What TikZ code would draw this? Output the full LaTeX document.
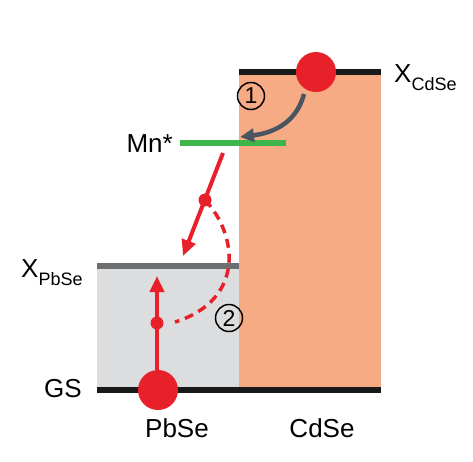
\documentclass[tikz,border=0pt]{standalone}
\usepackage{fontspec}
\setmainfont{Liberation Sans}
\usepackage{tkz-euclide}
\usetikzlibrary{arrows.meta}

\definecolor{rojo}{HTML}{E8202A}
\definecolor{naranja}{HTML}{F7AB84}
\definecolor{grisclaro}{HTML}{DCDDDF}
\definecolor{grisnivel}{HTML}{6D6E70}
\definecolor{verde}{HTML}{3DB54A}
\definecolor{pizarra}{HTML}{4A5562}

\begin{document}
\begin{tikzpicture}[x=1pt,y=-1pt,
    etiqueta/.style={font=\fontsize{26}{30}\selectfont, inner sep=0pt},
    nivel/.style={line width=6.5pt},
    flecha/.style={rojo, line width=4pt, -{Triangle[length=16pt,width=14pt]}},
    cifra/.style={circle, draw, line width=1.5pt, inner sep=0pt,
      minimum size=27pt, font=\fontsize{23}{24}\selectfont}]
        \useasboundingbox (0,0) rectangle (473,461);

        % Define las esquinas de las bandas de PbSe y CdSe.
        \tkzDefPoint(97,266){PbA}
        \tkzDefPoint(239,390){PbB}
        \tkzDefPoint(239,72){CdA}
        \tkzDefPoint(381,390){CdB}
        \tkzDefPoint(97,390){GSa}
        \tkzDefPoint(239,266){PbC}
        \tkzDefPoint(381,72){CdC}
        \tkzDefPoint(180,143){MnA}
        \tkzDefPoint(286,143){MnB}

        % Rellena las bandas.
        \fill[naranja] (CdA) rectangle (CdB);
        \fill[grisclaro] (PbA) rectangle (PbB);

        % Dibuja los niveles de energía.
        \draw[nivel, black!90] (CdA) -- (CdC);
        \draw[nivel, grisnivel] (PbA) -- (PbC);
        \draw[nivel, black!90] (GSa) -- (CdB);
        \draw[nivel, verde] (MnA) -- (MnB);

        % Etiquetas de los niveles y de los materiales.
        \node[etiqueta, anchor=base west] (xcdse) at (394,82)
          {X\raisebox{-8pt}{\fontsize{18}{20}\selectfont CdSe}};
        \node[etiqueta, anchor=base west] (xpbse) at (21,277)
          {X\raisebox{-8pt}{\fontsize{18}{20}\selectfont PbSe}};
        \node[etiqueta, anchor=base east] (mn) at (173,152) {Mn*};
        \node[etiqueta, anchor=base east] (gs) at (82,397) {GS};
        \node[etiqueta, anchor=base] (pbse) at (177,437) {PbSe};
        \node[etiqueta, anchor=base] (cdse) at (322,437) {CdSe};

        % Define los puntos de las transiciones.
        \tkzDefPoint(316,72){eCd}
        \tkzDefPoint(158,390){ePb}
        \tkzDefPoint(304,94){tA}
        \tkzDefPoint(240,137){tB}
        \tkzDefPoint(223,153){rA}
        \tkzDefPoint(205,200){rM}
        \tkzDefPoint(183,256){rB}
        \tkzDefPoint(157,370){uA}
        \tkzDefPoint(157,323){uM}
        \tkzDefPoint(157,276){uB}
        \tkzDefPoint(175,322){dB}

        % Transferencia de CdSe a Mn* (1).
        \draw[pizarra, line width=4.5pt, -{Triangle[length=14pt,width=13pt]}]
          (tA) .. controls (296,124) and (272,133) .. (tB);
        \node[cifra] (uno) at (251,96) {1};

        % Relajación de Mn* a PbSe y excitación de PbSe (2).
        \draw[flecha] (rA) -- (rB);
        \draw[flecha] (uA) -- (uB);
        \draw[rojo, line width=3.5pt, dash pattern=on 9pt off 6pt]
          (rM) .. controls (238,235) and (245,300) .. (dB);
        \fill[rojo] (rM) circle[radius=6.5pt];
        \fill[rojo] (uM) circle[radius=6.5pt];
        \node[cifra] (dos) at (229,318) {2};

        % Electrones.
        \fill[rojo] (eCd) circle[radius=20pt];
        \fill[rojo] (ePb) circle[radius=20pt];
    \end{tikzpicture}
\end{document}
